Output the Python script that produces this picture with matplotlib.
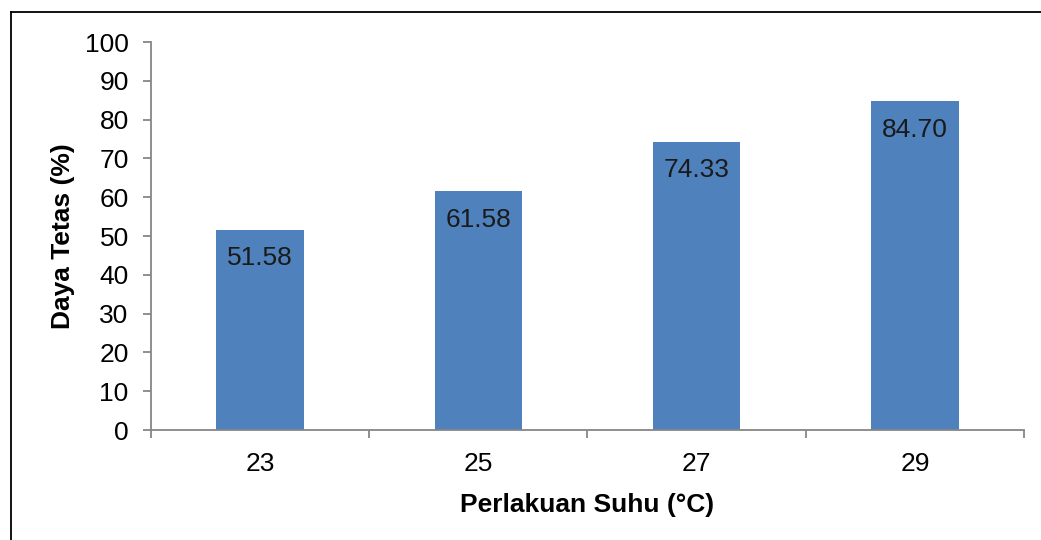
import matplotlib
matplotlib.use("Agg")
import matplotlib.pyplot as plt
from matplotlib.lines import Line2D

plt.rcParams['font.family'] = ['Liberation Sans', 'DejaVu Sans']

# Hatch rate per incubation temperature
temperatures = ["23", "25", "27", "29"]
hatch_rate = [51.58, 61.58, 74.33, 84.70]
y_ticks = list(range(0, 101, 10))

BAR_COLOR = "#4F81BD"
AXIS_COLOR = "#868686"

fig = plt.figure(figsize=(10.41, 5.40), dpi=100)
ax = fig.add_axes([0.145, 0.2037, 0.8387, 0.7183])

x = list(range(len(temperatures)))
bars = ax.bar(x, hatch_rate, width=0.4, color=BAR_COLOR, zorder=2)

# Value labels just inside the top of each bar
for rect, val in zip(bars, hatch_rate):
    ax.annotate(f"{val:.2f}",
                xy=(rect.get_x() + rect.get_width() / 2, rect.get_height()),
                xytext=(0, -20.5), textcoords="offset points",
                ha="center", va="center", fontsize=19, color="#1a1a1a")

ax.set_xlim(-0.5, len(temperatures) - 0.5)
ax.set_ylim(0, 100)
ax.set_yticks(y_ticks)
ax.set_yticklabels([str(t) for t in y_ticks])

# Category separators as tick marks, labels centered under bars
ax.set_xticks([i - 0.5 for i in range(len(temperatures) + 1)])
ax.set_xticklabels([])
ax.set_xticks(x, minor=True)
ax.set_xticklabels(temperatures, minor=True)

ax.tick_params(axis="y", which="major", direction="out", length=6, width=1.3,
               color=AXIS_COLOR, labelsize=19, pad=10)
ax.tick_params(axis="x", which="major", direction="out", length=6, width=1.3,
               color=AXIS_COLOR)
ax.tick_params(axis="x", which="minor", length=0, labelsize=19, pad=16)

for side in ("top", "right"):
    ax.spines[side].set_visible(False)
for side in ("left", "bottom"):
    ax.spines[side].set_color(AXIS_COLOR)
    ax.spines[side].set_linewidth(1.3)

ax.set_xlabel("Perlakuan Suhu (°C)", fontsize=19, fontweight="bold", labelpad=12)
ax.set_ylabel("Daya Tetas (%)", fontsize=19, fontweight="bold", labelpad=7)

# Outer frame line along top and left edges
W, H = 1041, 540
fig.add_artist(Line2D([11 / W, 11 / W], [0, 1 - 12 / H], transform=fig.transFigure,
                      color="black", lw=1.3))
fig.add_artist(Line2D([11 / W, 1], [1 - 12 / H, 1 - 12 / H], transform=fig.transFigure,
                      color="black", lw=1.3))

fig.savefig("out.png", dpi=100, facecolor="white")
